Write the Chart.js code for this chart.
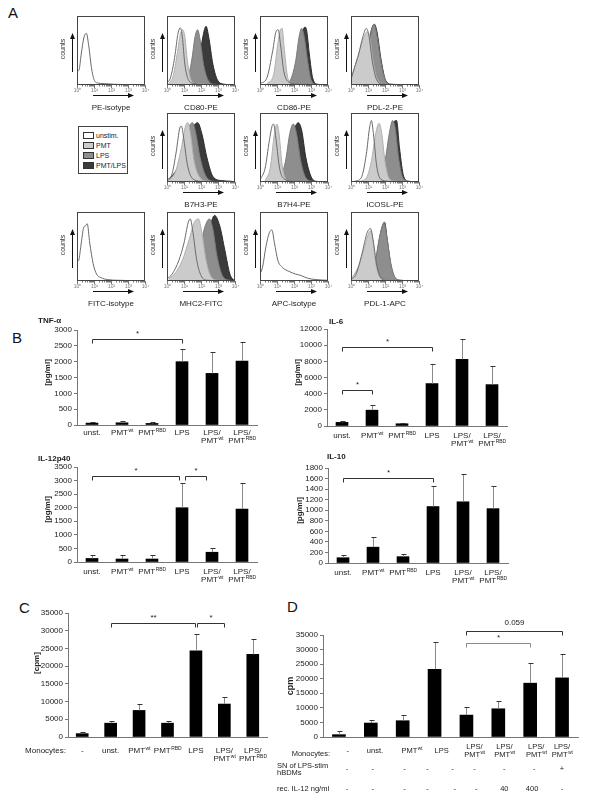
<!DOCTYPE html>
<html>
<head>
<meta charset="utf-8">
<script src="https://cdn.jsdelivr.net/npm/chart.js@4.4.0/dist/chart.umd.min.js"></script>
<style>
  body { margin: 0; background: #fff; font-family: 'Liberation Sans', Arial, sans-serif; }
  #page { position: relative; width: 600px; height: 800px; overflow: hidden; }
  canvas { position: absolute; }
  .letter { position: absolute; font-size: 15px; color: #111; }
  #legend { position: absolute; left: 78px; top: 126px; width: 48px; height: 46px; border: 1px solid #444; }
  #legend div { position: absolute; left: 4px; font-size: 7px; line-height: 8px; color: #222; white-space: nowrap; }
  #legend span { display: inline-block; width: 9px; height: 5px; border: 1px solid #333; margin-right: 2px; vertical-align: -1px; }
</style>
</head>
<body>
<div id="page">
  <div class="letter" style="left:8px;top:4px">A</div>
  <div class="letter" style="left:12px;top:329px">B</div>
  <div class="letter" style="left:19px;top:599px">C</div>
  <div class="letter" style="left:287px;top:598px">D</div>
  <div id="legend">
    <div style="top:5px"><span style="background:#fff"></span>unstim.</div>
    <div style="top:15px"><span style="background:#cbcbcb"></span>PMT</div>
    <div style="top:25px"><span style="background:#8e8e8e"></span>LPS</div>
    <div style="top:35px"><span style="background:#3b3b3b"></span>PMT/LPS</div>
  </div>
</div>
<script>
// ---- flow cytometry histograms: [log decade, % of max counts]
const peIsotype = [[0,20],[0.12,22],[0.25,45],[0.4,68],[0.55,75],[0.7,55],[0.85,25],[1,8],[1.2,3],[1.6,2],[2.2,1],[3,0.5],[4,0]];
const cd80Unstim = [[0,3],[0.2,10],[0.45,40],[0.65,75],[0.78,83],[0.9,70],[1.05,30],[1.25,8],[1.6,2],[2.5,0.5],[4,0]];
const cd80Pmt = [[0.1,2],[0.35,12],[0.6,45],[0.8,75],[0.93,80],[1.05,70],[1.2,35],[1.4,8],[1.7,2],[4,0]];
const cd80Lps = [[0.4,1],[0.8,4],[1.2,10],[1.45,35],[1.65,70],[1.8,80],[1.95,65],[2.15,30],[2.4,8],[2.8,1],[4,0]];
const cd80PmtLps = [[0.8,1],[1.3,6],[1.7,25],[2.0,55],[2.2,80],[2.3,85],[2.45,70],[2.7,30],[3.0,6],[3.4,1],[4,0]];
const cd86Unstim = [[0,2],[0.4,10],[0.75,50],[0.95,78],[1.07,80],[1.2,60],[1.4,20],[1.7,4],[2.2,1],[4,0]];
const cd86Pmt = [[0.4,2],[0.8,15],[1.05,60],[1.2,80],[1.3,82],[1.42,55],[1.6,15],[1.8,3],[2.2,0.5],[4,0]];
const cd86Lps = [[1.4,1],[1.8,8],[2.1,35],[2.3,70],[2.45,82],[2.6,70],[2.8,35],[3.0,8],[3.3,1],[4,0]];
const cd86PmtLps = [[1.5,1],[1.9,8],[2.2,35],[2.45,72],[2.65,84],[2.75,78],[2.9,45],[3.1,10],[3.4,1],[4,0]];
const pdl2Unstim = [[0,8],[0.2,25],[0.45,45],[0.7,70],[0.9,82],[1.05,72],[1.25,35],[1.5,8],[1.9,1],[4,0]];
const pdl2Pmt = [[0,10],[0.15,20],[0.4,40],[0.7,65],[0.95,77],[1.1,70],[1.3,35],[1.55,8],[2,1],[4,0]];
const pdl2Lps = [[0.3,1],[0.6,8],[0.95,40],[1.2,78],[1.35,88],[1.5,75],[1.75,35],[2.0,8],[2.3,1],[4,0]];
const pdl2PmtLps = [[0.3,1],[0.6,8],[0.95,42],[1.2,80],[1.38,88],[1.52,78],[1.78,35],[2.05,6],[2.4,1],[4,0]];
const b7h3Unstim = [[0,3],[0.3,12],[0.55,45],[0.75,78],[0.85,81],[1.0,60],[1.2,25],[1.5,5],[2,1],[4,0]];
const b7h3Pmt = [[0.1,2],[0.5,15],[0.85,50],[1.1,82],[1.23,86],[1.38,70],[1.6,30],[1.9,8],[2.4,1],[4,0]];
const b7h3Lps = [[0.1,2],[0.5,15],[0.95,45],[1.3,80],[1.5,86],[1.7,70],[1.95,35],[2.3,8],[2.8,1],[4,0]];
const b7h3PmtLps = [[0.1,3],[0.4,12],[0.8,28],[1.2,55],[1.55,80],[1.8,86],[2.05,70],[2.35,35],[2.7,8],[3.2,2],[3.8,1],[4,0]];
const b7h4Unstim = [[0,3],[0.3,20],[0.55,60],[0.72,82],[0.8,84],[0.95,60],[1.15,20],[1.45,4],[2,1],[4,0]];
const b7h4Pmt = [[0.3,2],[0.6,20],[0.85,70],[1.0,84],[1.12,70],[1.3,25],[1.5,5],[1.8,1],[4,0]];
const b7h4Lps = [[0.8,1],[1.2,8],[1.5,30],[1.75,70],[1.96,84],[2.15,70],[2.4,30],[2.7,6],[3.1,1],[4,0]];
const b7h4PmtLps = [[0.9,1],[1.3,8],[1.65,30],[1.95,70],[2.25,86],[2.45,75],[2.7,35],[3.0,8],[3.3,1],[4,0]];
const icoslUnstim = [[0.2,1],[0.6,6],[0.9,40],[1.1,80],[1.2,89],[1.32,70],[1.5,25],[1.75,4],[2.2,1],[4,0]];
const icoslPmt = [[0.5,1],[0.9,6],[1.2,30],[1.45,70],[1.65,85],[1.8,72],[2.0,30],[2.25,5],[2.6,1],[4,0]];
const icoslLps = [[1.3,1],[1.7,6],[2.0,30],[2.25,70],[2.45,89],[2.6,78],[2.8,35],[3.05,6],[3.4,1],[4,0]];
const icoslPmtLps = [[1.4,1],[1.8,6],[2.1,30],[2.4,75],[2.55,88],[2.68,89],[2.85,50],[3.1,8],[3.4,1],[4,0]];
const fitcIsotype = [[0,28],[0.1,30],[0.25,55],[0.4,78],[0.5,80],[0.6,83],[0.75,55],[0.95,25],[1.15,10],[1.4,5],[1.8,2],[2.5,1],[4,0]];
const mhc2Unstim = [[0,3],[0.3,10],[0.7,30],[1.0,55],[1.25,85],[1.37,90],[1.5,75],[1.75,30],[2.0,8],[2.4,1],[4,0]];
const mhc2Pmt = [[0.1,3],[0.5,12],[0.9,30],[1.3,60],[1.6,85],[1.85,90],[2.05,70],[2.3,30],[2.6,6],[3.0,1],[4,0]];
const mhc2Lps = [[0.5,2],[1.0,8],[1.5,20],[1.9,45],[2.25,80],[2.5,90],[2.7,75],[2.95,35],[3.3,6],[3.7,1],[4,0]];
const mhc2PmtLps = [[0.8,1],[1.4,5],[1.9,15],[2.25,40],[2.55,80],[2.8,95],[3.1,80],[3.4,45],[3.7,10],[3.95,1],[4,0]];
const apcIsotype = [[0,10],[0.15,20],[0.35,50],[0.55,70],[0.7,74],[0.85,55],[1.05,30],[1.3,20],[1.7,14],[2.1,10],[2.4,8],[2.8,4],[3.3,2],[4,1]];
const pdl1Unstim = [[0,2],[0.3,10],[0.65,40],[0.95,70],[1.15,76],[1.3,60],[1.5,25],[1.75,5],[2.1,1],[4,0]];
const pdl1Pmt = [[0,4],[0.2,10],[0.5,25],[0.8,50],[1.05,70],[1.15,73],[1.3,55],[1.5,20],[1.75,4],[2.1,1],[4,0]];
const pdl1Lps = [[0.8,1],[1.1,5],[1.4,25],[1.65,60],[1.85,80],[1.95,85],[2.1,65],[2.35,25],[2.6,5],[2.9,1],[4,0]];
const pdl1PmtLps = [[0.8,1],[1.15,5],[1.45,28],[1.7,65],[1.88,82],[1.98,85],[2.12,62],[2.35,22],[2.6,4],[2.9,1],[4,0]];

const histNames = ['PE-isotype', 'CD80-PE', 'CD86-PE', 'PDL-2-PE', 'B7H3-PE', 'B7H4-PE', 'ICOSL-PE',
  'FITC-isotype', 'MHC2-FITC', 'APC-isotype', 'PDL-1-APC'];
const histCurves = [
  [peIsotype],
  [cd80Unstim, cd80Pmt, cd80Lps, cd80PmtLps],
  [cd86Unstim, cd86Pmt, cd86Lps, cd86PmtLps],
  [pdl2Unstim, pdl2Pmt, pdl2Lps, pdl2PmtLps],
  [b7h3Unstim, b7h3Pmt, b7h3Lps, b7h3PmtLps],
  [b7h4Unstim, b7h4Pmt, b7h4Lps, b7h4PmtLps],
  [icoslUnstim, icoslPmt, icoslLps, icoslPmtLps],
  [fitcIsotype],
  [mhc2Unstim, mhc2Pmt, mhc2Lps, mhc2PmtLps],
  [apcIsotype],
  [pdl1Unstim, pdl1Pmt, pdl1Lps, pdl1PmtLps]
];

// ---- cytokines (B)
const cytoCats = ['unst.', 'PMT^wt', 'PMT^RBD', 'LPS', 'LPS/|PMT^wt', 'LPS/|PMT^RBD'];
const tnfValues = [60, 70, 50, 2000, 1630, 2020];
const tnfErrors = [110, 140, 100, 2390, 2300, 2610];
const tnfBrackets = [[0, 3, 2710, '*']];
const il6Values = [450, 1960, 280, 5250, 8250, 5120];
const il6Errors = [560, 2620, 330, 7620, 10750, 7420];
const il6Brackets = [[0, 3, 9830, '*'], [0, 1, 4420, '*']];
const il12Values = [130, 110, 110, 2000, 360, 1950];
const il12Errors = [240, 240, 240, 2900, 510, 2900];
const il12Brackets = [[0, 2.9, 3180, '*'], [3.1, 3.8, 3180, '*']];
const il10Values = [100, 300, 120, 1070, 1160, 1030];
const il10Errors = [150, 497, 170, 1450, 1690, 1450];
const il10Brackets = [[0, 3, 1610, '*']];

// ---- proliferation (C)
const prolifCats = ['-', 'unst.', 'PMT^wt', 'PMT^RBD', 'LPS', 'LPS/|PMT^wt', 'LPS/|PMT^RBD'];
const prolifValues = [950, 3900, 7500, 3900, 24300, 9300, 23300];
const prolifErrors = [1300, 4600, 9200, 4400, 29200, 11200, 27800];
const prolifBrackets = [[1, 3.95, 32190, '**'], [4.05, 5, 32190, '*']];

// ---- IL-12 rescue (D)
const rescueCats = ['-', 'unst.', 'PMT^wt', 'LPS', 'LPS/|PMT^wt', 'LPS/|PMT^wt', 'LPS/|PMT^wt', 'LPS/|PMT^wt'];
const rescueValues = [800, 4790, 5590, 23260, 7520, 9690, 18470, 20290];
const rescueErrors = [1940, 5930, 7640, 32700, 10260, 12430, 25300, 28500];
const rescueBrackets = [[4, 6, 32150, '*', '#8a8a8a'], [4, 7, 36480, '0.059']];
const snRow = ['-', '-', '-', '-', '-', '-', '-', '-', '+'];
const recIl12Row = ['-', '-', '-', '-', '-', '-', '40', '400', '-'];

// layout
const colX = [77, 167, 260, 351];
const rowY = [16, 113, 212];
const histPos = [[0,0],[1,0],[2,0],[3,0],[1,1],[2,1],[3,1],[0,2],[1,2],[2,2],[3,2]];
const monoSlots = [0.28, 1.13, 2.28, 3.22, 4.25, 5.19, 6.19, 7.0];
const snSlots = [0.25, 1.06, 2.06, 2.78, 3.56, 4.25, 5.19, 6.13, 7.0];
const recSlots = [0.25, 1.06, 2.06, 2.78, 3.63, 4.31, 5.19, 6.06, 7.0];

const FONT = "'Liberation Sans', Arial, sans-serif";
Chart.defaults.font.family = FONT;
Chart.defaults.color = '#222';
const page = document.getElementById('page');

const histStyles = [
  { borderColor: '#6a6a6a', backgroundColor: 'rgba(0,0,0,0)', fill: false },
  { borderColor: '#b0b0b0', backgroundColor: '#cbcbcb', fill: 'origin' },
  { borderColor: '#7a7a7a', backgroundColor: '#8e8e8e', fill: 'origin' },
  { borderColor: '#2a2a2a', backgroundColor: '#3b3b3b', fill: 'origin' }
];
const supDigits = ['\u2070', '\u00b9', '\u00b2', '\u00b3', '\u2074'];

function arrowHead(ctx, x, y, dir) {
  ctx.beginPath();
  if (dir === 'up') { ctx.moveTo(x, y); ctx.lineTo(x - 2.5, y + 6); ctx.lineTo(x + 2.5, y + 6); }
  else { ctx.moveTo(x, y); ctx.lineTo(x - 6, y - 2.5); ctx.lineTo(x - 6, y + 2.5); }
  ctx.closePath(); ctx.fill();
}

const histDeco = {
  id: 'histDeco',
  afterDraw(chart, args, o) {
    const { ctx, chartArea: a, scales: { x } } = chart;
    ctx.save();
    ctx.strokeStyle = '#444'; ctx.lineWidth = 1;
    ctx.strokeRect(a.left + 0.5, a.top + 0.5, a.right - a.left - 1, a.bottom - a.top - 1);
    ctx.strokeStyle = '#777';
    for (let d = 0; d <= 4; d++) {
      const px = Math.round(x.getPixelForValue(d)) + 0.5;
      ctx.beginPath(); ctx.moveTo(px, a.bottom); ctx.lineTo(px, a.bottom + 3); ctx.stroke();
      if (d < 4) {
        for (let k = 2; k < 10; k++) {
          const mx = Math.round(x.getPixelForValue(d + Math.log10(k))) + 0.5;
          ctx.beginPath(); ctx.moveTo(mx, a.bottom); ctx.lineTo(mx, a.bottom + 1.5); ctx.stroke();
        }
      }
      ctx.fillStyle = '#777'; ctx.font = '5px ' + FONT; ctx.textAlign = 'center'; ctx.textBaseline = 'top';
      ctx.fillText('10' + supDigits[d], px, a.bottom + 3);
    }
    ctx.fillStyle = '#111'; ctx.strokeStyle = '#111';
    // up arrow + counts
    const ax = a.left - 4.5;
    ctx.beginPath(); ctx.moveTo(ax, a.top + 56); ctx.lineTo(ax, a.top + 22); ctx.stroke();
    arrowHead(ctx, ax, a.top + 17, 'up');
    ctx.save();
    ctx.translate(a.left - 14, a.top + 33); ctx.rotate(-Math.PI / 2);
    ctx.font = '7px ' + FONT; ctx.textAlign = 'center'; ctx.textBaseline = 'middle';
    ctx.fillStyle = '#333'; ctx.fillText('counts', 0, 0);
    ctx.restore();
    // right arrow
    const ry = a.bottom + 10.5;
    ctx.beginPath(); ctx.moveTo(a.left + 16, ry); ctx.lineTo(a.left + 52, ry); ctx.stroke();
    arrowHead(ctx, a.left + 57, ry, 'right');
    ctx.font = '8px ' + FONT; ctx.textAlign = 'center'; ctx.textBaseline = 'middle'; ctx.fillStyle = '#222';
    ctx.fillText(o.name, (a.left + a.right) / 2, a.bottom + 23);
    ctx.restore();
  }
};

function histChart(i) {
  const [c, r] = histPos[i];
  const bx = colX[c], by = rowY[r];
  const cv = document.createElement('canvas');
  cv.width = 68 + 25 + 8; cv.height = 69 + 2 + 30;
  cv.style.left = (bx - 25) + 'px'; cv.style.top = (by - 2) + 'px';
  page.appendChild(cv);
  const curves = histCurves[i];
  new Chart(cv, {
    type: 'line',
    data: {
      datasets: curves.map((pts, k) => Object.assign({
        data: pts.map(p => ({ x: p[0], y: p[1] })),
        borderWidth: 1, pointRadius: 0, cubicInterpolationMode: 'monotone'
      }, curves.length === 1 ? histStyles[0] : histStyles[k]))
    },
    options: {
      responsive: false, animation: false, events: [],
      layout: { padding: { left: 25, top: 2, right: 8, bottom: 30 } },
      scales: {
        x: { type: 'linear', min: 0, max: 4, display: false },
        y: { min: 0, max: 100, display: false }
      },
      plugins: { legend: { display: false }, tooltip: { enabled: false }, histDeco: { name: histNames[i] } }
    },
    plugins: [histDeco]
  });
}
for (let i = 0; i < histNames.length; i++) histChart(i);

// ---- bar charts
function richText(ctx, s, cx, cy, size, align) {
  const parts = s.split('^');
  const base = parts[0], sup = parts[1];
  ctx.font = size + 'px ' + FONT;
  const wb = ctx.measureText(base).width;
  let ws = 0;
  if (sup) { ctx.font = (size * 0.62) + 'px ' + FONT; ws = ctx.measureText(sup).width; }
  const x0 = align === 'right' ? cx - wb - ws : align === 'left' ? cx : cx - (wb + ws) / 2;
  ctx.textAlign = 'left'; ctx.textBaseline = 'middle';
  ctx.font = size + 'px ' + FONT; ctx.fillText(base, x0, cy);
  if (sup) { ctx.font = (size * 0.62) + 'px ' + FONT; ctx.fillText(sup, x0 + wb + 0.5, cy - size * 0.3); }
}

const deco = {
  id: 'deco',
  afterDraw(chart, args, o) {
    const { ctx, chartArea: a, scales: { x, y } } = chart;
    const x0 = x.getPixelForValue(0), step = x.getPixelForValue(1) - x0;
    const px = f => x0 + f * step;
    ctx.save();
    // error bars
    chart.data.datasets[0].data.forEach((v, i) => {
      const cx = Math.round(px(i)) + 0.5, top = y.getPixelForValue(v), e = Math.round(y.getPixelForValue(o.errors[i])) + 0.5;
      ctx.lineWidth = 1; ctx.strokeStyle = '#8a8a8a';
      ctx.beginPath(); ctx.moveTo(cx, top); ctx.lineTo(cx, e); ctx.stroke();
      ctx.strokeStyle = '#333';
      ctx.beginPath(); ctx.moveTo(cx - 2, e); ctx.lineTo(cx + 3, e); ctx.stroke();
    });
    // significance brackets
    o.brackets.forEach(b => {
      const x1 = Math.round(px(b[0])) + 0.5, x2 = Math.round(px(b[1])) + 0.5;
      const yy = Math.round(y.getPixelForValue(b[2])) + 0.5;
      ctx.strokeStyle = b[4] || '#333'; ctx.lineWidth = 1;
      ctx.beginPath(); ctx.moveTo(x1, yy + 4); ctx.lineTo(x1, yy); ctx.lineTo(x2, yy); ctx.lineTo(x2, yy + 4); ctx.stroke();
      ctx.fillStyle = '#222'; ctx.font = '8px ' + FONT; ctx.textAlign = 'center'; ctx.textBaseline = 'middle';
      ctx.fillText(b[3], (x1 + x2) / 2, yy - (b[3] === '0.059' ? 9 : 6));
    });
    // category labels
    ctx.fillStyle = '#222';
    chart.data.labels.forEach((lab, i) => {
      const lines = lab.split('|');
      const cx = px(o.slots ? o.slots[i] : i);
      const y0 = a.bottom + o.labelDy - (o.centerLines ? (lines.length - 1) * o.lineH / 2 : 0);
      lines.forEach((ln, k) => richText(ctx, ln, cx, y0 + k * o.lineH, o.labelSize, 'center'));
    });
    // extra rows (row titles + row values)
    (o.rows || []).forEach(row => {
      row.title.forEach((t, k) => richText(ctx, t, a.left + row.titleDx, a.bottom + row.dy + row.titleDy + k * 7, o.labelSize, row.titleAlign));
      (row.items || []).forEach((t, k) => richText(ctx, t, px(row.slots[k]), a.bottom + row.dy, o.labelSize, 'center'));
    });
    // titles
    if (o.title) {
      ctx.font = 'bold 8px ' + FONT; ctx.textAlign = 'left'; ctx.textBaseline = 'middle';
      ctx.fillText(o.title, a.left + o.titleDx, a.top + o.titleDy);
    }
    ctx.save();
    ctx.translate(a.left + o.yTitleDx, (a.top + a.bottom) / 2 + o.yTitleDy);
    ctx.rotate(-Math.PI / 2);
    ctx.font = 'bold ' + (o.yTitleSize || 8) + 'px ' + FONT; ctx.textAlign = 'center'; ctx.textBaseline = 'middle';
    ctx.fillText(o.yTitle, 0, 0);
    ctx.restore();
    ctx.restore();
  }
};

function barChart(rect, cats, values, errors, cfg) {
  const padL = 60, padT = 30, padR = 12, padB = 62;
  const cv = document.createElement('canvas');
  cv.width = rect[2] - rect[0] + padL + padR; cv.height = rect[3] - rect[1] + padT + padB;
  cv.style.left = (rect[0] - padL) + 'px'; cv.style.top = (rect[1] - padT) + 'px';
  page.appendChild(cv);
  new Chart(cv, {
    type: 'bar',
    data: { labels: cats, datasets: [{ data: values, backgroundColor: '#000', barThickness: cfg.bar || 12 }] },
    options: {
      responsive: false, animation: false, events: [],
      layout: { padding: { left: 0, top: padT, right: padR, bottom: padB } },
      scales: {
        x: {
          ticks: { display: false },
          grid: { display: false },
          border: { color: '#777' },
          afterFit(s) { s.height = 0; }
        },
        y: {
          min: 0, max: cfg.max,
          ticks: { stepSize: cfg.step, autoSkip: false, font: { size: 8 }, color: '#222', padding: 2, callback: v => String(v) },
          grid: { drawOnChartArea: false, tickLength: 3, color: '#777' },
          border: { color: '#777' },
          afterFit(s) { s.width = padL; }
        }
      },
      plugins: {
        legend: { display: false }, tooltip: { enabled: false },
        deco: Object.assign({ errors: errors, labelDy: 8, lineH: 8, labelSize: 8 }, cfg)
      }
    },
    plugins: [deco]
  });
}

barChart([77, 330, 257, 425], cytoCats, tnfValues, tnfErrors,
  { max: 3000, step: 500, brackets: tnfBrackets, title: 'TNF-\u03b1', titleDx: -39, titleDy: -9, yTitle: '[pg/ml]', yTitleDx: -29, yTitleDy: -5 });
barChart([327, 329, 507, 426], cytoCats, il6Values, il6Errors,
  { max: 12000, step: 2000, brackets: il6Brackets, title: 'IL-6', titleDx: 2, titleDy: -7, yTitle: '[pg/ml]', yTitleDx: -29, yTitleDy: -5, labelDy: 10 });
barChart([77, 467, 257, 562], cytoCats, il12Values, il12Errors,
  { max: 3500, step: 500, brackets: il12Brackets, title: 'IL-12p40', titleDx: -39, titleDy: -8, yTitle: '[pg/ml]', yTitleDx: -29, yTitleDy: -5, labelDy: 10 });
barChart([328, 468, 508, 563], cytoCats, il10Values, il10Errors,
  { max: 1800, step: 200, brackets: il10Brackets, title: 'IL-10', titleDx: -1, titleDy: -11, yTitle: '[pg/ml]', yTitleDx: -28, yTitleDy: -5, labelDy: 10 });

barChart([68, 613, 267, 737], prolifCats, prolifValues, prolifErrors,
  { max: 35000, step: 5000, brackets: prolifBrackets, yTitle: '[cpm]', yTitleDx: -31, yTitleDy: -12, labelDy: 14,
    rows: [{ title: ['Monocytes:'], titleDx: -2, titleAlign: 'right', dy: 14, titleDy: 0 }] });

barChart([323, 635, 578, 737], rescueCats, rescueValues, rescueErrors,
  { max: 35000, step: 5000, bar: 13, brackets: rescueBrackets, yTitle: 'cpm', yTitleSize: 9, yTitleDx: -32, yTitleDy: 0,
    labelDy: 14, centerLines: true, lineH: 7.5, labelSize: 7.5, slots: monoSlots,
    rows: [
      { title: ['Monocytes:'], titleDx: 7, titleAlign: 'right', dy: 17, titleDy: 0 },
      { title: ['SN of LPS-stim', 'hBDMs'], titleDx: -46, titleAlign: 'left', dy: 32, titleDy: -3, items: snRow, slots: snSlots },
      { title: ['rec. IL-12 ng/ml'], titleDx: -46, titleAlign: 'left', dy: 52, titleDy: 0, items: recIl12Row, slots: recSlots }
    ] });
</script>
</body>
</html>
